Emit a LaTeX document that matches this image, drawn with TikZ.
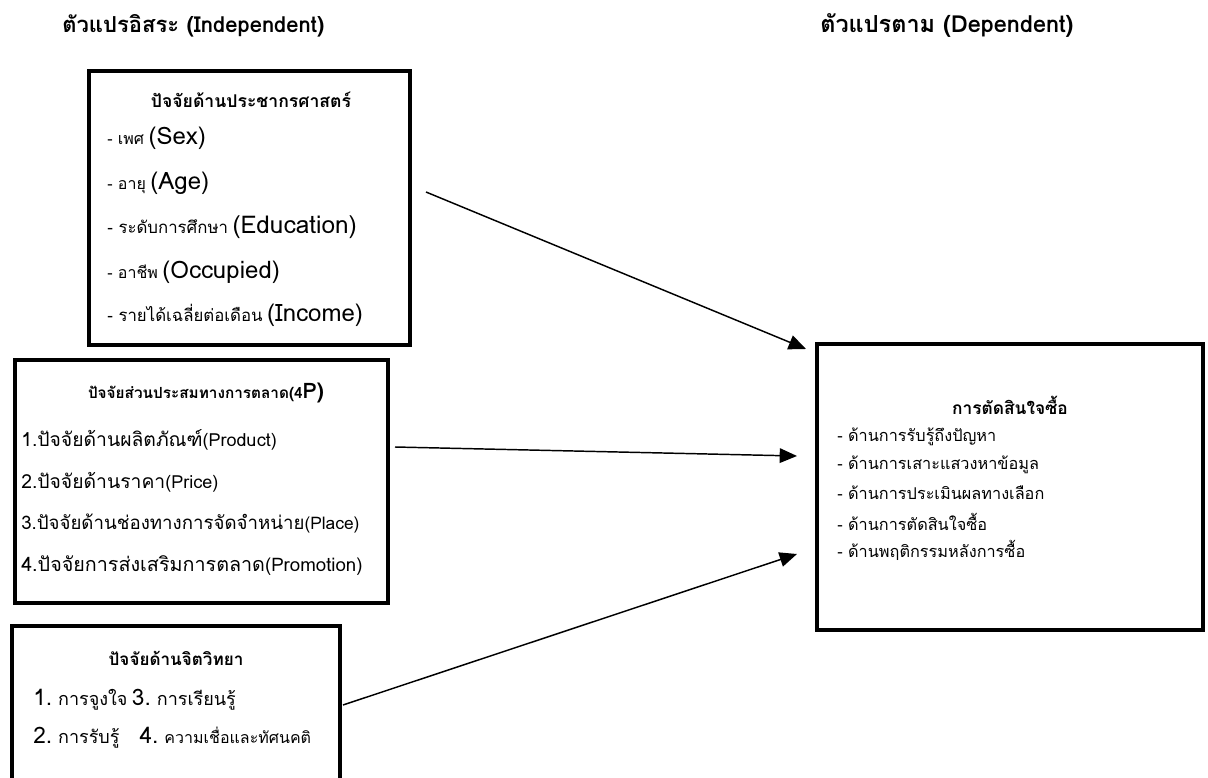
\documentclass[tikz,border=0pt]{standalone}
\usepackage{fontspec}
\setmainfont{Loma}[Script=Thai]
\usetikzlibrary{arrows.meta}
\newcommand\Fs[2]{{\fontsize{#1}{#1}\selectfont #2}}
\begin{document}
\begin{tikzpicture}[x=0.75pt,y=-0.75pt,
  box/.style={draw=black,line width=3.7pt,fill=none},
  hdr/.style={anchor=west,inner sep=0pt,font=\bfseries},
  ttl/.style={inner sep=0pt,font=\bfseries},
  itm/.style={anchor=west,inner sep=0pt},
  arr/.style={line width=1.1pt,-{Triangle[length=13pt,width=11pt]}}]
\useasboundingbox (0,0) rectangle (1208,778);
% boxes
\draw[box] (89,71) rectangle (410,345);
\draw[box] (15,360) rectangle (388,603);
\draw[box] (12,820) -- (12,626) -- (340,626) -- (340,820);
\draw[box] (817,344) rectangle (1203,630);
% headers
\node[hdr] (h1) at (62,26) {\Fs{16.5}{ตัวแปรอิสระ (Independent)}};
\node[hdr] (h2) at (820,26) {\Fs{17.6}{ตัวแปรตาม (Dependent)}};
% box 1
\node[ttl] (t1) at (251,100) {\Fs{13.2}{ปัจจัยด้านประชากรศาสตร์}};
\node[itm] (a1) at (107,138) {\Fs{12}{- เพศ} \Fs{18}{(Sex)}};
\node[itm] (a2) at (107,183) {\Fs{12}{- อายุ} \Fs{18}{(Age)}};
\node[itm] (a3) at (107,227) {\Fs{12.6}{- ระดับการศึกษา} \Fs{18.3}{(Education)}};
\node[itm] (a4) at (107,272) {\Fs{12}{- อาชีพ} \Fs{18}{(Occupied)}};
\node[itm] (a5) at (107,315) {\Fs{12.6}{- รายได้เฉลี่ยต่อเดือน} \Fs{18}{(Income)}};
% box 2
\node[ttl] (t2) at (206,393) {\Fs{11.5}{ปัจจัยส่วนประสมทางการตลาด(4}\Fs{16}{P)}};
\node[itm] (p1) at (21,440) {\Fs{14.5}{1.ปัจจัยด้านผลิตภัณฑ์}\Fs{13.5}{(Product)}};
\node[itm] (p2) at (21,482) {\Fs{14.5}{2.ปัจจัยด้านราคา}\Fs{13.5}{(Price)}};
\node[itm] (p3) at (21,524) {\Fs{14}{3.ปัจจัยด้านช่องทางการจัดจำหน่าย}\Fs{13}{(Place)}};
\node[itm] (p4) at (21,566) {\Fs{14.8}{4.ปัจจัยการส่งเสริมการตลาด}\Fs{14}{(Promotion)}};
% box 3
\node[ttl] (t3) at (176,658) {\Fs{12.8}{ปัจจัยด้านจิตวิทยา}};
\node[itm] (q1) at (33,700) {\Fs{17}{1.} \Fs{13.5}{การจูงใจ} \Fs{17}{3.} \Fs{13.5}{การเรียนรู้}};
\node[itm] (q2) at (33,738) {\Fs{17}{2.} \Fs{13.5}{การรับรู้}\hspace{15pt}\Fs{17}{4.} \Fs{12}{ความเชื่อและทัศนคติ}};
% box 4
\node[ttl] (t4) at (1010,405) {\Fs{13}{การตัดสินใจซื้อ}};
\node[itm] (d1) at (837,437) {\Fs{12.2}{- ด้านการรับรู้ถึงปัญหา}};
\node[itm] (d2) at (837,465) {\Fs{12.2}{- ด้านการเสาะแสวงหาข้อมูล}};
\node[itm] (d3) at (837,493) {\Fs{12.2}{- ด้านการประเมินผลทางเลือก}};
\node[itm] (d4) at (837,522) {\Fs{12.2}{- ด้านการตัดสินใจซื้อ}};
\node[itm] (d5) at (837,550) {\Fs{12.2}{- ด้านพฤติกรรมหลังการซื้อ}};
% arrows
\coordinate (s1) at (426,192);
\coordinate (e1) at (806,349);
\coordinate (s2) at (395,447);
\coordinate (e2) at (797,456);
\coordinate (s3) at (343,705);
\coordinate (e3) at (797,554);
\draw[arr] (s1) -- (e1);
\draw[arr] (s2) -- (e2);
\draw[arr] (s3) -- (e3);
\end{tikzpicture}
\end{document}
